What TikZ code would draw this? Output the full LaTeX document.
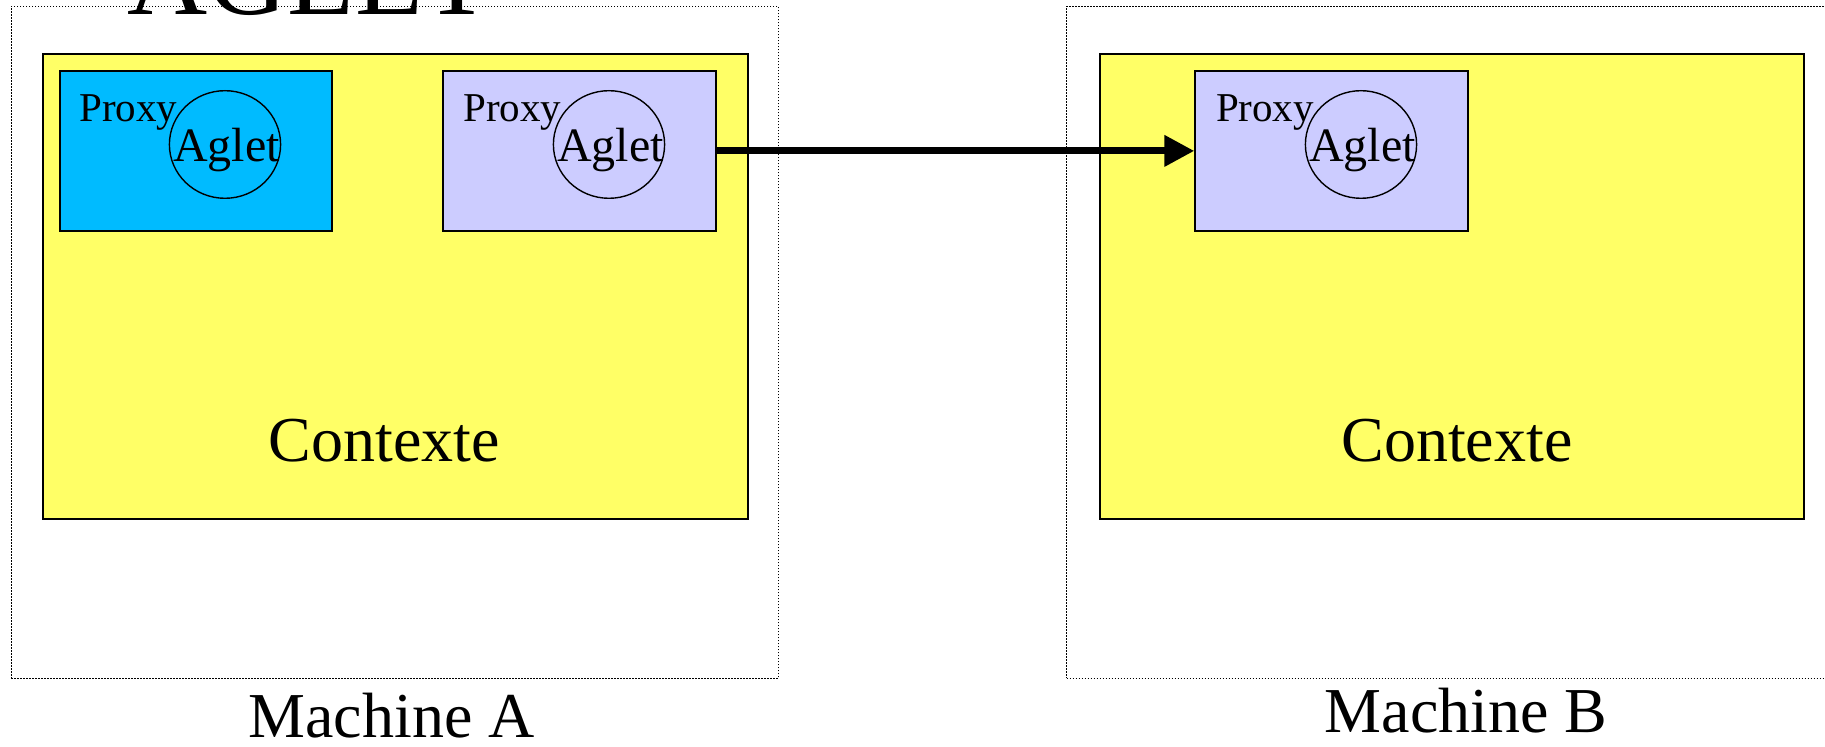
\documentclass[tikz,border=0pt]{standalone}
\usepackage{fontspec}
\setmainfont{Liberation Serif}
\usetikzlibrary{arrows.meta,shapes.geometric}
\definecolor{ctxyellow}{HTML}{FFFF66}
\definecolor{proxycyan}{HTML}{00BBFF}
\definecolor{proxylav}{HTML}{CCCCFF}
\tikzset{
  machinebox/.style={draw=black, line width=0.6pt, dash pattern=on 0.8pt off 0.7pt, rectangle, anchor=north west, inner sep=0pt, minimum width=383.5pt, minimum height=336pt},
  ctxbox/.style={draw=black, line width=1pt, fill=ctxyellow, rectangle, anchor=north west, inner sep=0pt, minimum width=352.1pt, minimum height=232.3pt},
  proxybox/.style={draw=black, line width=0.9pt, rectangle, anchor=north west, inner sep=0pt, minimum width=136.3pt, minimum height=80pt},
  agletell/.style={draw=black, line width=0.7pt, ellipse, inner sep=0pt, minimum width=55.6pt, minimum height=53.8pt},
  proxytxt/.style={anchor=base west, inner sep=0pt, font=\fontsize{20.5}{24}\selectfont},
  aglettxt/.style={anchor=base, inner sep=0pt, font=\fontsize{24}{28}\selectfont},
  bigtxt/.style={anchor=base, inner sep=0pt, font=\fontsize{32}{38}\selectfont},
  titletxt/.style={anchor=base, inner sep=0pt, font=\fontsize{55.5}{60}\selectfont},
  migrate/.style={line width=3.5pt, -{Triangle[length=15pt,width=15pt]}}
}
\begin{document}
\begin{tikzpicture}[x=0.5pt,y=-0.5pt]
\clip (0,0) rectangle (1825,747);
\fill[white] (0,0) rectangle (1825,747);
% machines
\node[machinebox] (machA) at (10.5,5.8) {};
\node[machinebox] (machB) at (1066,5.8) {};
\node[titletxt] (title) at (309.5,15) {AGLET};
% contexts
\node[ctxbox] (ctxA) at (42.3,53.4) {};
\node[ctxbox] (ctxB) at (1098.5,53.4) {};
% proxies
\node[proxybox, fill=proxycyan] (pA1) at (58.7,70) {};
\node[proxybox, fill=proxylav] (pA2) at (442.3,70) {};
\node[proxybox, fill=proxylav] (pB) at (1194.3,70) {};
% aglets
\node[agletell] (eA1) at (225,144.5) {};
\node[agletell] (eA2) at (609,144.5) {};
\node[agletell] (eB) at (1361,144.5) {};
\node[proxytxt] (tpA1) at (79,122) {Proxy};
\node[proxytxt] (tpA2) at (462.8,122) {Proxy};
\node[proxytxt] (tpB) at (1215.6,122) {Proxy};
\node[aglettxt] (taA1) at (226.5,161.7) {Aglet};
\node[aglettxt] (taA2) at (610.5,161.7) {Aglet};
\node[aglettxt] (taB) at (1362.5,161.7) {Aglet};
% labels
\node[bigtxt] (cA) at (384.5,462) {Contexte};
\node[bigtxt] (cB) at (1457,462) {Contexte};
\node[bigtxt] (mA) at (391.7,738) {Machine A};
\node[bigtxt] (mB) at (1466,733) {Machine B};
% migration arrow
\draw[migrate] (pA2.east) -- (pB.west);
\end{tikzpicture}
\end{document}
